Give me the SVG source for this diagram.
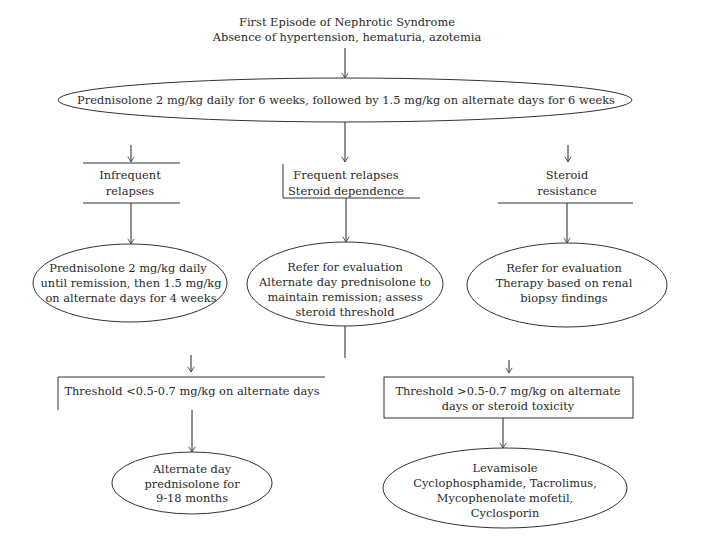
<svg xmlns="http://www.w3.org/2000/svg" width="720" height="540" viewBox="0 0 720 540">
<style>
text{font-family:"DejaVu Serif","Liberation Serif",serif;font-size:11.4px;fill:#2a2a2a;text-anchor:middle}
.s{fill:none;stroke:#333;stroke-width:1}
.c{fill:none;stroke:#222;stroke-width:1}
</style>
<defs>
<marker id="a" viewBox="0 0 10 10" refX="9.5" refY="5" markerWidth="8" markerHeight="8" markerUnits="userSpaceOnUse" orient="auto">
<polyline points="3,1 9.5,5 3,9" fill="none" stroke="#444" stroke-width="1.1"/>
</marker>
</defs>
<rect width="720" height="540" fill="#fff"/>
<g id="title">
<text x="347" y="26">First Episode of Nephrotic Syndrome</text>
<text x="347" y="41">Absence of hypertension, hematuria, azotemia</text>
</g>
<g id="n-initial">
<ellipse class="s" cx="345" cy="100" rx="287" ry="22"/>
<text x="346" y="104">Prednisolone 2 mg/kg daily for 6 weeks, followed by 1.5 mg/kg on alternate days for 6 weeks</text>
</g>
<g id="n-infrequent">
<path class="s" d="M83 163H180M83 203H180"/>
<text x="130" y="179">Infrequent</text>
<text x="130" y="195">relapses</text>
</g>
<g id="n-frequent">
<path class="s" d="M283 164V198H420"/>
<text x="346" y="179">Frequent relapses</text>
<text x="346" y="195">Steroid dependence</text>
</g>
<g id="n-resistance">
<path class="s" d="M498 203H633"/>
<text x="567" y="179">Steroid</text>
<text x="567" y="195">resistance</text>
</g>
<g id="n-infreq-tx">
<ellipse class="s" cx="130" cy="283" rx="97" ry="39"/>
<text x="128" y="272">Prednisolone 2 mg/kg daily</text>
<text x="131" y="287">until remission, then 1.5 mg/kg</text>
<text x="131" y="302">on alternate days for 4 weeks</text>
</g>
<g id="n-freq-tx">
<ellipse class="s" cx="345" cy="284" rx="98" ry="42"/>
<text x="345" y="271">Refer for evaluation</text>
<text x="345" y="286">Alternate day prednisolone to</text>
<text x="345" y="301">maintain remission; assess</text>
<text x="345" y="316">steroid threshold</text>
</g>
<g id="n-resist-tx">
<ellipse class="s" cx="567" cy="285" rx="100" ry="42"/>
<text x="564" y="272">Refer for evaluation</text>
<text x="564" y="287">Therapy based on renal</text>
<text x="564" y="302">biopsy findings</text>
</g>
<g id="n-low">
<path class="s" d="M58 410V377H325"/>
<text x="192" y="395">Threshold &lt;0.5-0.7 mg/kg on alternate days</text>
</g>
<g id="n-high">
<rect class="s" x="384" y="377" width="249" height="41"/>
<text x="508" y="395">Threshold &gt;0.5-0.7 mg/kg on alternate</text>
<text x="508" y="410">days or steroid toxicity</text>
</g>
<g id="n-alt">
<ellipse class="s" cx="192" cy="483" rx="80" ry="31"/>
<text x="192" y="473">Alternate day</text>
<text x="192" y="488">prednisolone for</text>
<text x="192" y="502">9-18 months</text>
</g>
<g id="n-immuno">
<ellipse class="s" cx="505" cy="488" rx="122" ry="40"/>
<text x="505" y="472">Levamisole</text>
<text x="505" y="487">Cyclophosphamide, Tacrolimus,</text>
<text x="505" y="502">Mycophenolate mofetil,</text>
<text x="505" y="517">Cyclosporin</text>
</g>
<g id="connectors">
<line class="c" x1="345" y1="48" x2="345" y2="78" marker-end="url(#a)"/>
<line class="c" x1="345" y1="122" x2="345" y2="162" marker-end="url(#a)"/>
<line class="c" x1="131" y1="145" x2="131" y2="162" marker-end="url(#a)"/>
<line class="c" x1="568" y1="145" x2="568" y2="162" marker-end="url(#a)"/>
<line class="c" x1="131" y1="203" x2="131" y2="244" marker-end="url(#a)"/>
<line class="c" x1="346" y1="198" x2="346" y2="242" marker-end="url(#a)"/>
<line class="c" x1="567" y1="203" x2="567" y2="243" marker-end="url(#a)"/>
<line class="c" x1="345" y1="326" x2="345" y2="358"/>
<line class="c" x1="191" y1="355" x2="191" y2="372" marker-end="url(#a)"/>
<line class="c" x1="509" y1="360" x2="509" y2="373" marker-end="url(#a)"/>
<line class="c" x1="192" y1="410" x2="192" y2="452" marker-end="url(#a)"/>
<line class="c" x1="503" y1="418" x2="503" y2="448" marker-end="url(#a)"/>
</g>
</svg>
